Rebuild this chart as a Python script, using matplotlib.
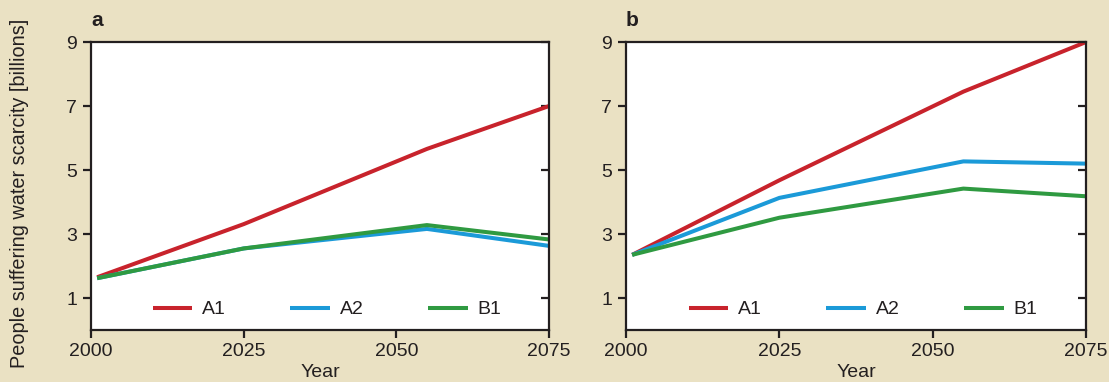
import matplotlib
matplotlib.use("Agg")
import matplotlib.pyplot as plt

plt.rcParams['font.family'] = ['Liberation Sans', 'DejaVu Sans']

years = [2001, 2025, 2055, 2075]

# Panel a
a_A1 = [1.65, 3.31, 5.66, 7.0]
a_A2 = [1.62, 2.55, 3.16, 2.63]
a_B1 = [1.62, 2.55, 3.28, 2.83]

# Panel b
b_A1 = [2.35, 4.68, 7.45, 9.0]
b_A2 = [2.35, 4.13, 5.27, 5.2]
b_B1 = [2.35, 3.51, 4.42, 4.18]

series_names = ["A1", "A2", "B1"]
colors = ["#C8232C", "#1B9AD8", "#2F9A41"]

xticks = [2000, 2025, 2050, 2075]
yticks = [1, 3, 5, 7, 9]

bg = "#EAE1C3"
ink = "#231F20"

fig = plt.figure(figsize=(11.09, 3.82), dpi=100, facecolor=bg)
ax_a = fig.add_axes([0.0821, 0.136, 0.413, 0.754])
ax_b = fig.add_axes([0.5645, 0.136, 0.4148, 0.754])

panels = [(ax_a, "a", [a_A1, a_A2, a_B1]), (ax_b, "b", [b_A1, b_A2, b_B1])]

for ax, tag, data in panels:
    ax.set_facecolor("white")
    for name, vals, c in zip(series_names, data, colors):
        ax.plot(years, vals, color=c, lw=2.9, label=name, solid_capstyle="butt")
    ax.set_xlim(2000, 2075)
    ax.set_ylim(0, 9)
    ax.set_xticks(xticks)
    ax.set_yticks(yticks)
    for s in ax.spines.values():
        s.set_color(ink)
        s.set_linewidth(1.6)
    ax.tick_params(axis="both", direction="out", length=6, width=1.6,
                   color=ink, labelsize=14, labelcolor=ink, pad=3)
    ax.tick_params(axis="y", right=True, pad=4)
    # inward ticks on the right spine
    for t in ax.yaxis.get_major_ticks():
        t.tick2line.set_marker(matplotlib.lines.TICKLEFT)
    ax.set_xlabel("Year", fontsize=14, color=ink, labelpad=3)
    ax.text(0.0, 1.04, tag, transform=ax.transAxes, fontsize=15,
            fontweight="bold", color=ink, ha="left", va="bottom")
    leg = ax.legend(loc="lower center", ncol=3, frameon=False, fontsize=14,
                    handlelength=2.05, handletextpad=0.5, columnspacing=3.3,
                    bbox_to_anchor=(0.515, -0.02))
    for t in leg.get_texts():
        t.set_color(ink)

ax_a.set_ylabel("People suffering water scarcity [billions]", fontsize=14.3,
                color=ink)
ax_a.yaxis.set_label_coords(-0.135, 0.476)

fig.savefig("out.png", dpi=100, facecolor=bg)
